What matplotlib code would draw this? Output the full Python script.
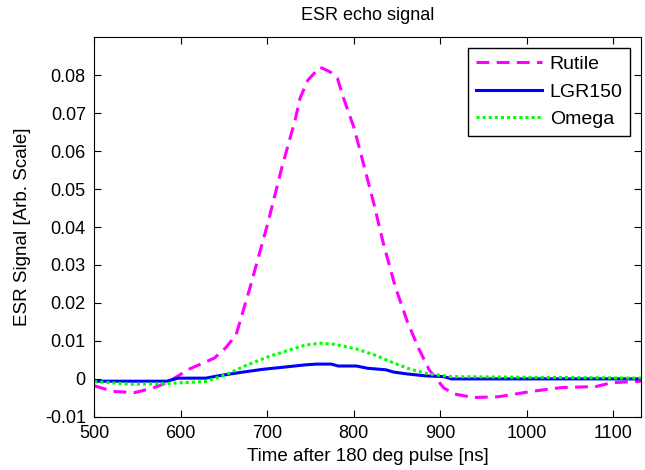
import numpy as np
import matplotlib.pyplot as plt

plt.rcParams['font.family'] = ['Liberation Sans', 'DejaVu Sans']

# Rutile (magenta dashed)
t_rutile = [500, 522, 547, 568, 584, 610, 639, 652, 664, 680, 701, 717, 732, 738,
            747, 761, 773, 781, 788, 800, 811, 823, 834, 848, 862, 875, 887, 904,
            917, 938, 967, 1005, 1039, 1080, 1098, 1135]
rutile = [-0.0018, -0.0033, -0.0036, -0.0024, -0.0010, 0.0026, 0.0055, 0.0082,
          0.0116, 0.0240, 0.0413, 0.0558, 0.0680, 0.0740, 0.0787, 0.0821, 0.0808,
          0.0792, 0.0740, 0.0663, 0.0568, 0.0463, 0.0358, 0.0242, 0.0150, 0.0080,
          0.0024, -0.0024, -0.0040, -0.0049, -0.0047, -0.0033, -0.0023, -0.0020,
          -0.0010, -0.0006]

# LGR150 (blue solid)
t_lgr = [500, 584, 597, 629, 643, 669, 694, 719, 744, 757, 774, 782, 803, 816,
         837, 846, 862, 883, 904, 913, 1135]
lgr = [-0.0006, -0.0006, 0.0002, 0.0002, 0.0008, 0.0017, 0.0025, 0.0031, 0.0037,
       0.0039, 0.0039, 0.0034, 0.0034, 0.0028, 0.0024, 0.0018, 0.0013, 0.0008,
       0.0006, 0.0000, 0.0000]

# Omega (green dotted)
t_omega = [500, 543, 584, 629, 652, 677, 702, 728, 744, 761, 778, 803, 824, 845,
           866, 887, 913, 1135]
omega = [-0.0007, -0.0014, -0.0012, -0.0007, 0.0011, 0.0037, 0.0059, 0.0078,
         0.0089, 0.0094, 0.0091, 0.0079, 0.0063, 0.0043, 0.0025, 0.0013, 0.0006,
         0.0002]

fig = plt.figure(figsize=(6.45, 4.7), dpi=100)
ax = fig.add_axes([0.146, 0.113, 0.848, 0.808])

ax.plot(t_rutile, rutile, color='#ff00ff', lw=2.2, ls=(0, (4.2, 2.4)), label='Rutile')
ax.plot(t_lgr, lgr, color='#0000ff', lw=2.2, label='LGR150')
ax.plot(t_omega, omega, color='#00ff00', lw=2.2, ls=(0, (1, 1)), label='Omega')

ax.set_xlim(500, 1132)
ax.set_ylim(-0.01, 0.09)
ax.set_xticks([500, 600, 700, 800, 900, 1000, 1100])
ax.set_yticks(np.arange(-0.01, 0.081, 0.01))
ax.set_yticklabels(['-0.01', '0', '0.01', '0.02', '0.03', '0.04', '0.05',
                    '0.06', '0.07', '0.08'])
ax.tick_params(direction='in', top=True, right=True, labelsize=13, length=5)
ax.tick_params(axis='x', pad=6)
ax.tick_params(axis='y', pad=6)

ax.set_xlabel('Time after 180 deg pulse [ns]', fontsize=13.5, labelpad=4)
ax.set_ylabel('ESR Signal [Arb. Scale]', fontsize=13.5, labelpad=10)
ax.set_title('ESR echo signal', fontsize=13, pad=12)

leg = ax.legend(loc='upper right', fontsize=14, fancybox=False, framealpha=1,
                edgecolor='black', handlelength=3.4, handletextpad=0.4,
                labelspacing=0.5, borderaxespad=0.55)
leg.get_frame().set_linewidth(1)

fig.savefig('out.png', dpi=100)
